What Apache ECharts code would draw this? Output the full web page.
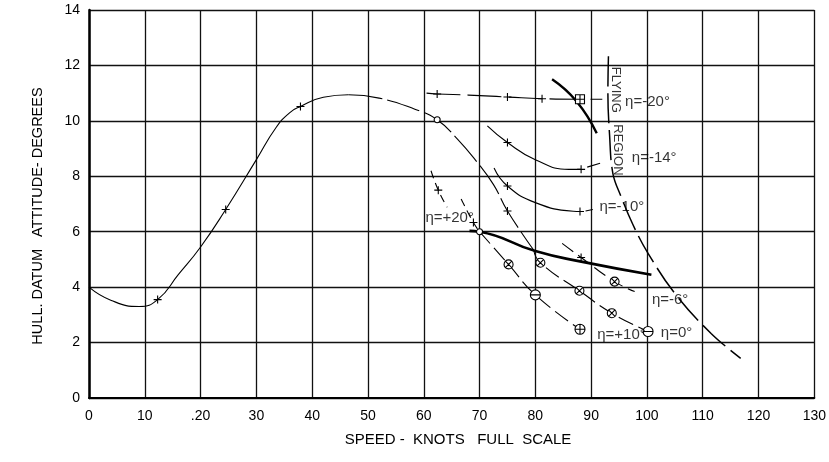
<!DOCTYPE html>
<html><head><meta charset="utf-8">
<script src="https://cdn.jsdelivr.net/npm/echarts@6/dist/echarts.min.js"></script>
<style>html,body{margin:0;padding:0;background:#fff}#c{width:829px;height:462px}</style>
</head><body><div id="c"></div>
<script>
// ---- tick labels ----
const xTicks = [0,10,20,30,40,50,60,70,80,90,100,110,120,130];
const xTickLabels = ['0','10','.20','30','40','50','60','70','80','90','100','110','120','130'];
const yTicks = [0,2,4,6,8,10,12,14];
const yTickLabels = ['0','2','4','6','8','10','12','14'];

// ---- curves (speed knots, attitude deg) ----
const mainSolid = [[0,4.0],[4,3.52],[9,3.3],[12.3,3.55],[16,4.45],[20,5.45],[24.5,6.8],[30,8.6],[33.5,9.75],[36,10.3],[37.9,10.52],[42,10.85],[46.5,10.94]];
const mainDashed = [[46.5,10.94],[52,10.82],[58.4,10.42],[62.4,10.04],[66,9.35],[69.6,8.5],[72.5,7.7],[75,6.75],[79.7,5.34]];
const etaM20 = [[60.5,11.0],[62.4,10.97],[68,10.93],[75,10.86],[81.2,10.8],[88,10.78],[92,10.78]];
const etaM14 = [[71.4,9.82],[75,9.22],[80,8.6],[86,8.25],[88.2,8.25]];
const etaM14Tail = [[89.3,8.33],[91.6,8.47]];
const etaM10 = [[72.6,8.3],[75,7.65],[80,7.05],[86.8,6.74],[88,6.73]];
const etaM10Tail = [[89,6.75],[90.3,6.8]];
const etaP20a = [[61.3,8.2],[62.6,7.5],[64.2,6.88]];
const etaP20b = [[66.7,7.18],[68.9,6.33],[70,6.0]];
const thickLine = [[68.2,6.03],[70,6.0],[80,5.3],[88,4.93],[100.8,4.45]];
const etaP10 = [[70,6.0],[75.2,4.82],[80,3.72],[88,2.48]];
const eta0 = [[79.7,5.34],[80.9,4.88],[87.9,3.87],[93.7,3.06],[100.2,2.4]];
const etaM6 = [[84.8,5.58],[88.2,5.07],[94.2,4.2],[97.8,3.84]];
const flyShort = [[83,11.5],[87.4,10.7],[91,9.55]];
const flyBoundary = [[93.1,12.33],[93.0,11.0],[93.3,9.5],[93.9,8.1],[95.3,7.3],[97.5,6.25],[100.2,5.22],[105.2,3.72],[111.5,2.33],[116.8,1.43]];

// ---- test point markers ----
const plusPts = [[12.3,3.55],[24.5,6.8],[37.9,10.52],[62.4,10.97],[75,10.86],[81.2,10.8],[75,9.22],[88.2,8.25],[75,7.65],[88,6.73],[75,6.75],[62.6,7.5],[68.9,6.33],[88.2,5.07]];
const ringPts = [[62.4,10.04],[70,6.0]];
const crossRingPts = [[75.2,4.82],[80.9,4.88],[87.9,3.87],[93.7,3.06],[94.2,4.2]];
const minusRingPts = [[80,3.72],[100.2,2.4]];
const plusRingPts = [[88,2.48]];
const plusSquarePts = [[88,10.78]];

// ---- annotations ----
const etaLabels = [
  {text:'η=-20°', x:96.0, y:10.7},
  {text:'η=-14°', x:97.2, y:8.66},
  {text:'η=-10°', x:91.4, y:6.9},
  {text:'η=+20°', x:60.2, y:6.5},
  {text:'η=-6°',  x:100.8, y:3.54},
  {text:'η=+10°', x:91.0, y:2.27},
  {text:'η=0°',   x:102.4, y:2.35}
];
const regionLabels = [
  {text:'FLYING', x:94.4, y:11.12},
  {text:'REGION', x:94.7, y:8.95}
];

const FONT = 'Liberation Sans';
const CIRC = 'M10,5C10,7.76 7.76,10 5,10C2.24,10 0,7.76 0,5C0,2.24 2.24,0 5,0C7.76,0 10,2.24 10,5Z';
const SYM = {
  plus: 'path://M0,5L10,5M5,0L5,10',
  ring: 'path://' + CIRC,
  crossRing: 'path://' + CIRC + 'M1.7,1.7L8.3,8.3M8.3,1.7L1.7,8.3',
  minusRing: 'path://' + CIRC + 'M0,5L10,5',
  plusRing: 'path://' + CIRC + 'M0,5L10,5M5,0L5,10',
  plusSquare: 'path://M0,0L10,0L10,10L0,10ZM0,5L10,5M5,0L5,10'
};

function line(data, width, type, z, smooth) {
  return {type:'line', data:data, symbol:'none', showSymbol:false, smooth: smooth===undefined?0.5:smooth,
    lineStyle:{color:'#000', width:width, type:type}, z:z||2, silent:true};
}
function marks(data, sym, size) {
  return {type:'scatter', data:data, symbol:sym, symbolSize:size, symbolKeepAspect:true,
    itemStyle:{color:'#fff', borderColor:'#000', borderWidth:1.1, opacity:1}, z:5, silent:true};
}

const chart = echarts.init(document.getElementById('c'), null, {renderer:'canvas'});
chart.setOption({
  animation:false,
  backgroundColor:'#fff',
  grid:{left:89, right:10, top:10, bottom:64},
  xAxis:{type:'value', min:0, max:130, interval:10,
    axisLine:{show:true, lineStyle:{color:'#000', width:2}}, axisTick:{show:false},
    splitLine:{show:true, lineStyle:{color:'#111', width:1.3}},
    axisLabel:{color:'#000', fontFamily:FONT, fontSize:14, margin:11,
      formatter:function(v){const i=xTicks.indexOf(v); return i>=0?xTickLabels[i]:'';}}
  },
  yAxis:{type:'value', min:0, max:14, interval:2,
    axisLine:{show:true, lineStyle:{color:'#000', width:2.5}}, axisTick:{show:false},
    splitLine:{show:true, lineStyle:{color:'#111', width:1.3}},
    axisLabel:{color:'#000', fontFamily:FONT, fontSize:14, margin:9,
      formatter:function(v){const i=yTicks.indexOf(v); return i>=0?yTickLabels[i]:'';}}
  },
  graphic:[
    {type:'text', x:458, y:440, style:{text:'SPEED -  KNOTS   FULL  SCALE', fill:'#000', font:'15px "Liberation Sans"', textAlign:'center', textVerticalAlign:'middle', align:'center', verticalAlign:'middle'}},
    {type:'text', x:38, y:216, rotation:Math.PI/2, style:{text:'HULL. DATUM   ATTITUDE- DEGREES', fill:'#000', font:'14.5px "Liberation Sans"', textAlign:'center', textVerticalAlign:'middle', align:'center', verticalAlign:'middle'}}
  ],
  series:[
    line(mainSolid, 1.1, 'solid'),
    line(mainDashed, 1.1, [34,5]),
    line(etaM20, 1.1, [34,7]),
    line(etaM14, 1.1, 'solid'),
    line(etaM14Tail, 1.1, 'solid', 2, false),
    line(etaM10, 1.1, 'solid'),
    line(etaM10Tail, 1.1, 'solid', 2, false),
    line(etaP20a, 1.1, [8,5]),
    line(etaP20b, 1.1, [8,5]),
    line(etaP10, 1.1, [16,6]),
    line(eta0, 1.1, [16,6]),
    line(etaM6, 1.1, [14,6]),
    line(thickLine, 2.6, 'solid', 3),
    line(flyShort, 2.4, 'solid', 3),
    line(flyBoundary, 1.5, [30,7], 3, 0.4),
    marks(plusPts, SYM.plus, 8),
    marks(ringPts, SYM.ring, 6),
    marks(crossRingPts, SYM.crossRing, 9),
    marks(minusRingPts, SYM.minusRing, 10),
    marks(plusRingPts, SYM.plusRing, 10),
    marks(plusSquarePts, SYM.plusSquare, 9),
    {type:'scatter', data:etaLabels.map(a=>({name:a.text, value:[a.x,a.y]})), symbolSize:1, itemStyle:{color:'transparent'}, z:6, silent:true,
      label:{show:true, formatter:'{b}', position:'right', distance:0, color:'#000', fontFamily:FONT, fontSize:15}},
    {type:'scatter', data:regionLabels.map(a=>({name:a.text, value:[a.x,a.y]})), symbolSize:1, itemStyle:{color:'transparent'}, z:6, silent:true,
      label:{show:true, formatter:'{b}', position:'inside', rotate:-90, align:'center', verticalAlign:'middle', color:'#000', fontFamily:FONT, fontSize:13}}
  ]
});
</script></body></html>
